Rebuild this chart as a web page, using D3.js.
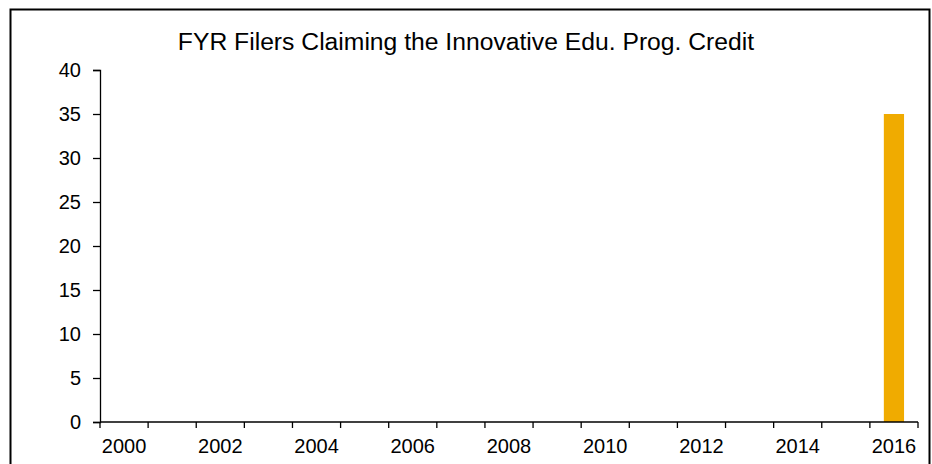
<!DOCTYPE html>
<html>
<head>
<meta charset="utf-8">
<script src="https://cdn.jsdelivr.net/npm/d3@7"></script>
<style>
  body { margin: 0; background: #fff; }
  svg { display: block; font-family: Arial, "Liberation Sans", sans-serif; }
</style>
</head>
<body>
<div id="chart"></div>
<script>
// data
const years = d3.range(2000, 2017).map(String);
const filers = [0, 0, 0, 0, 0, 0, 0, 0, 0, 0, 0, 0, 0, 0, 0, 0, 35];
const yTicks = [0, 5, 10, 15, 20, 25, 30, 35, 40];
const chartTitle = "FYR Filers Claiming the Innovative Edu. Prog. Credit";

function main() {
    const width = 932;
    const height = 464;
    const margin = { top: 70, right: 14, bottom: 42, left: 100 };

    const svg = d3.select("#chart")
        .append("svg")
        .attr("width", width)
        .attr("height", height);

    // outer frame (bottom runs off the picture)
    svg.append("rect")
        .attr("x", 10.5)
        .attr("y", 9.5)
        .attr("width", 919)
        .attr("height", 470)
        .attr("fill", "none")
        .attr("stroke", "#000")
        .attr("stroke-width", 2);

    const x = d3.scaleBand()
        .domain(years)
        .range([margin.left, width - margin.right])
        .paddingInner(0.58)
        .paddingOuter(0.29);

    const y = d3.scaleLinear()
        .domain([0, 40])
        .range([height - margin.bottom, margin.top]);

    svg.append("text")
        .attr("x", 466)
        .attr("y", 50)
        .attr("text-anchor", "middle")
        .style("font-size", "24.7px")
        .text(chartTitle);

    // bars
    svg.selectAll("rect.bar")
        .data(filers)
        .enter()
        .append("rect")
        .attr("class", "bar")
        .attr("x", (d, i) => x(years[i]))
        .attr("y", d => y(d))
        .attr("width", x.bandwidth())
        .attr("height", d => y(0) - y(d))
        .attr("fill", "#F0AB00");

    // y axis
    const yAxis = svg.append("g")
        .attr("transform", `translate(${margin.left},0)`)
        .call(d3.axisLeft(y).tickValues(yTicks).tickSize(7).tickPadding(12));
    yAxis.selectAll("text").style("font-size", "20px").attr("fill", "#000");
    yAxis.selectAll("line, path").attr("stroke", "#000").attr("stroke-width", 1.3);

    // x axis: ticks at category edges, label every other year
    const step = x.step();
    const edges = d3.range(years.length + 1).map(i => margin.left + i * step);
    const xg = svg.append("g").attr("class", "x-axis");
    xg.append("line")
        .attr("x1", margin.left).attr("x2", width - margin.right)
        .attr("y1", y(0)).attr("y2", y(0))
        .attr("stroke", "#000").attr("stroke-width", 1.3);
    xg.selectAll("line.tick")
        .data(edges)
        .enter()
        .append("line")
        .attr("class", "tick")
        .attr("x1", d => d).attr("x2", d => d)
        .attr("y1", y(0)).attr("y2", y(0) + 6)
        .attr("stroke", "#000").attr("stroke-width", 1.3);
    xg.selectAll("text")
        .data(years.filter((d, i) => i % 2 === 0))
        .enter()
        .append("text")
        .attr("x", d => x(d) + x.bandwidth() / 2)
        .attr("y", y(0) + 31)
        .attr("text-anchor", "middle")
        .style("font-size", "20px")
        .text(d => d);
}
main();
</script>
</body>
</html>
